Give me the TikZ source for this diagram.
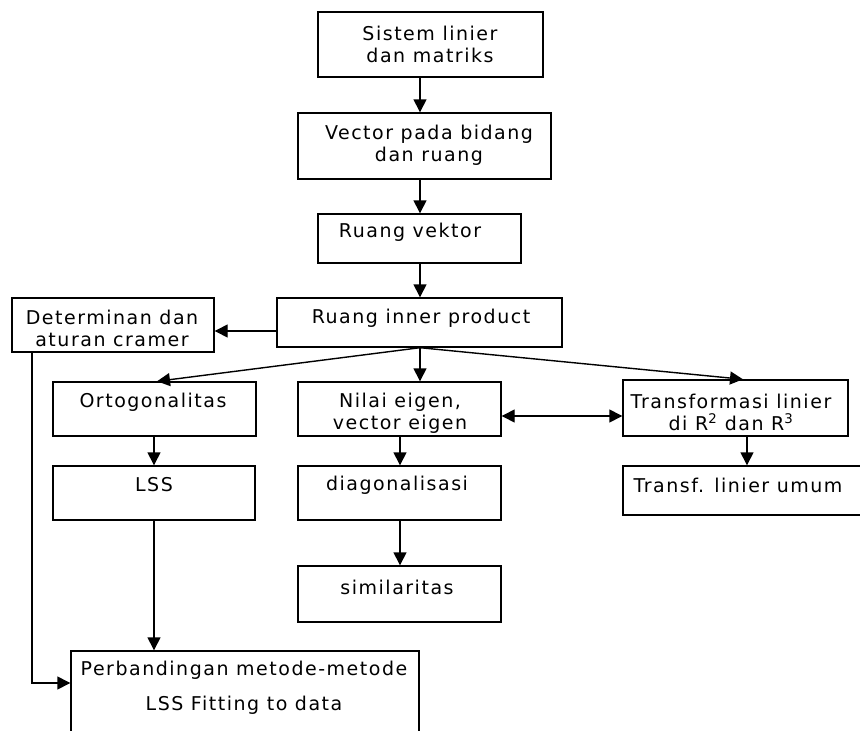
\documentclass[tikz,border=0pt]{standalone}
\usepackage{fontspec}
\newfontfamily\vf{DejaVu Sans}[LetterSpace=8]
\usetikzlibrary{arrows.meta}
\begin{document}
\begin{tikzpicture}[x=1pt,y=-1pt,
  box/.style={draw, line width=1.4pt, inner sep=0pt},
  txt/.style={font=\vf\fontsize{19}{22}\selectfont, align=center, inner sep=0pt},
  arr/.style={line width=1.4pt, -{Triangle[length=13pt,width=13pt]}},
  darr/.style={line width=1.4pt, {Triangle[length=13pt,width=13pt]}-{Triangle[length=13pt,width=13pt]}}]
\useasboundingbox (0,0) rectangle (860,731);
\clip (0,0) rectangle (860,731);
% boxes
\newcommand\mybox[5]{\node[box, minimum width={#4-#2}, minimum height={#5-#3}] (#1) at ({(#2+#4)/2},{(#3+#5)/2}) {};}
\mybox{sistem}{318}{12}{543}{77}
\mybox{vector}{298}{113}{551}{179}
\mybox{ruang}{318}{214}{521}{263}
\mybox{inner}{277}{298}{562}{347}
\mybox{det}{12}{298}{214}{352}
\mybox{orto}{53}{382}{256}{436}
\mybox{nilai}{298}{382}{501}{436}
\mybox{trans}{623}{380}{848}{436}
\mybox{lss}{53}{466}{255}{520}
\mybox{diag}{298}{466}{501}{520}
\mybox{umum}{623}{466}{868}{515}
\mybox{sim}{298}{566}{501}{622}
\mybox{perb}{71}{651}{419}{770}
% texts
\node[txt] (tsistem) at (430,44) {Sistem linier\\dan matriks};
\node[txt] (tvector) at (429,145) {Vector pada bidang\\dan ruang};
\node[txt] (truang) at (410,232) {Ruang vektor};
\node[txt] (tinner) at (421,318) {Ruang inner product};
\node[txt] (tdet) at (112,328) {Determinan dan\\aturan cramer};
\node[txt] (torto) at (153,402) {Ortogonalitas};
\node[txt] (tnilai) at (400,413) {Nilai eigen,\\vector eigen};
\node[txt] (ttrans) at (731,412) {Transformasi linier\\di R\textsuperscript{2} dan R\textsuperscript{3}};
\node[txt] (tlss) at (154,485) {LSS};
\node[txt] (tdiag) at (397,485) {diagonalisasi};
\node[txt] (tumum) at (738,485) {Transf. linier umum};
\node[txt] (tsim) at (397,587) {similaritas};
\node[txt, font=\vf\fontsize{19}{35}\selectfont] (tperb) at (244,688) {Perbandingan metode-metode\\LSS Fitting to data};
% helper coordinates
\coordinate (c420) at (420,0);
\coordinate (c400) at (400,0);
\coordinate (c154) at (154,0);
\coordinate (c157) at (157,0);
\coordinate (c743) at (743,0);
\coordinate (c747) at (747,0);
\coordinate (c32) at (32,0);
\coordinate (r331) at (0,331);
\coordinate (r416) at (0,416);
\coordinate (r683) at (0,683);
% connectors
\draw[arr] (sistem.south -| c420) -- (vector.north -| c420);
\draw[arr] (vector.south -| c420) -- (ruang.north -| c420);
\draw[arr] (ruang.south -| c420) -- (inner.north -| c420);
\draw[arr] (inner.west |- r331) -- (det.east |- r331);
\draw[arr] (inner.south -| c420) -- (orto.north -| c157);
\draw[arr] (inner.south -| c420) -- (nilai.north -| c420);
\draw[arr] (inner.south -| c420) -- (trans.north -| c743);
\draw[darr] (nilai.east |- r416) -- (trans.west |- r416);
\draw[arr] (orto.south -| c154) -- (lss.north -| c154);
\draw[arr] (nilai.south -| c400) -- (diag.north -| c400);
\draw[arr] (diag.south -| c400) -- (sim.north -| c400);
\draw[arr] (trans.south -| c747) -- (umum.north -| c747);
\draw[arr] (lss.south -| c154) -- (perb.north -| c154);
\draw[arr] (det.south -| c32) -- (c32 |- r683) -- (perb.west |- r683);
\end{tikzpicture}
\end{document}
